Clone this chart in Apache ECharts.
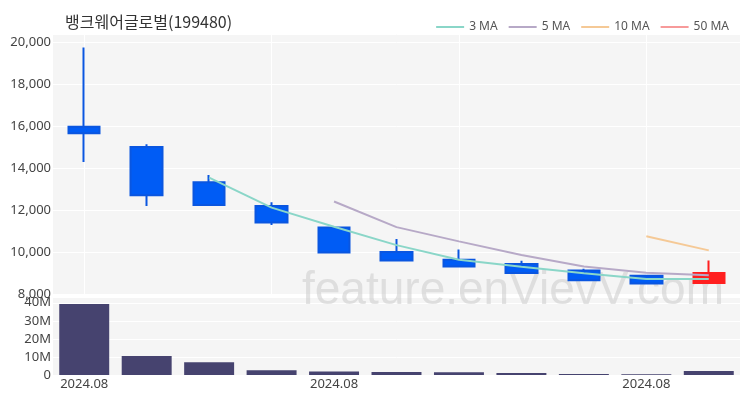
<!DOCTYPE html>
<html>
<head>
<meta charset="utf-8">
<script src="https://cdn.jsdelivr.net/npm/echarts@6/dist/echarts.min.js"></script>
<style>html,body{margin:0;padding:0;background:#fff}#c{width:750px;height:400px}</style>
</head>
<body>
<div id="c"></div>
<script>
const title = '뱅크웨어글로벌(199480)';
const dates = ['2024-08-01','2024-08-02','2024-08-05','2024-08-06','2024-08-07','2024-08-08','2024-08-09','2024-08-12','2024-08-13','2024-08-14','2024-08-16'];
const opens  = [15980, 15010, 13330, 12200, 11170, 10000, 9630, 9430, 9120, 8870, 8520];
const closes = [15670, 12710, 12250, 11410,  9980,  9600, 9310, 9000, 8650, 8505, 9000];
const lows   = [14290, 12200, 12250, 11290,  9980,  9600, 9310, 8950, 8650, 8505, 8520];
const highs  = [19760, 15140, 13680, 12380, 11170, 10620, 10120, 9590, 9200, 8870, 9600];
const volumes = [39300000, 10500000, 7000000, 2600000, 2000000, 1700000, 1500000, 1100000, 550000, 400000, 2200000];
const ma3  = [null, null, 13550, 12120, 11210, 10330, 9630, 9300, 8990, 8720, 8720];
const ma5  = [null, null, null, null, 12410, 11190, 10510, 9860, 9310, 9010, 8890];
const ma10 = [null, null, null, null, null, null, null, null, null, 10750, 10080];
const ma50 = [null, null, null, null, null, null, null, null, null, null, null];
const priceTicks = [8000, 10000, 12000, 14000, 16000, 18000, 20000];
const volumeTicks = [0, 10000000, 20000000, 30000000, 40000000];
const xLabelIdx = [0, 4, 9];

const candleData = dates.map((d, i) => [opens[i], closes[i], lows[i], highs[i]]);
const fontAxis = 'Noto Sans, Liberation Sans, sans-serif';
const chart = echarts.init(document.getElementById('c'), null, {renderer: 'canvas'});
const splitWhite = {show: true, lineStyle: {color: '#ffffff', width: 1}};

chart.setOption({
  animation: false,
  backgroundColor: '#ffffff',
  title: {
    text: title, left: 60, top: 9,
    textStyle: {fontFamily: 'Noto Sans CJK KR, sans-serif', fontSize: 16, fontWeight: 'normal', color: '#333'}
  },
  legend: {
    right: 16, top: 16, itemWidth: 28, itemHeight: 2, itemGap: 11, icon: 'rect',
    textStyle: {fontFamily: fontAxis, fontSize: 12, color: '#555'},
    data: ['3 MA', '5 MA', '10 MA', '50 MA']
  },
  graphic: [{
    type: 'text', left: 302, top: 268, z: 1, silent: true,
    style: {text: 'feature.enVievV.com', fill: 'rgba(200,200,200,0.5)', font: '46px "Liberation Sans", Arial, sans-serif'}
  }],
  grid: [
    {left: 53, right: 10, top: 34, height: 260, show: true, backgroundColor: '#f5f5f5', borderWidth: 0},
    {left: 53, right: 10, top: 297, height: 78, show: true, backgroundColor: '#f5f5f5', borderWidth: 0}
  ],
  xAxis: [
    {type: 'category', gridIndex: 0, data: dates, boundaryGap: true,
     axisLine: {show: false}, axisTick: {show: false}, axisLabel: {show: false},
     splitLine: {show: true, interval: 2, alignWithLabel: true, lineStyle: {color: '#ffffff', width: 1}}},
    {type: 'category', gridIndex: 1, data: dates, boundaryGap: true,
     axisLine: {show: false}, axisTick: {show: false},
     axisLabel: {interval: (i) => xLabelIdx.includes(i), margin: 3, fontFamily: fontAxis, fontSize: 13, color: '#444',
       formatter: (v) => v.slice(0, 4) + '.' + v.slice(5, 7)},
     splitLine: {show: false}}
  ],
  yAxis: [
    {type: 'value', gridIndex: 0, min: priceTicks[0], max: 20400, interval: 2000,
     axisLine: {show: false}, axisTick: {show: false}, splitLine: splitWhite,
     axisLabel: {showMaxLabel: false, margin: 2, fontFamily: fontAxis, fontSize: 13, color: '#444',
       formatter: (v) => priceTicks.includes(v) ? v.toLocaleString('en-US') : ''}},
    {type: 'value', gridIndex: 1, min: volumeTicks[0], max: 43200000, interval: 10000000,
     axisLine: {show: false}, axisTick: {show: false}, splitLine: splitWhite,
     axisLabel: {showMaxLabel: false, margin: 2, fontFamily: fontAxis, fontSize: 13, color: '#444',
       formatter: (v) => volumeTicks.includes(v) ? (v === 0 ? '0' : (v / 1000000) + 'M') : ''}}
  ],
  series: [
    {type: 'candlestick', name: 'price', xAxisIndex: 0, yAxisIndex: 0, data: candleData, barWidth: 32, z: 3,
     itemStyle: {color: '#ff1f1f', color0: '#005cf5', borderColor: '#ff1f1f', borderColor0: '#0a56e0', borderWidth: 2}},
    {type: 'line', name: '3 MA', data: ma3, xAxisIndex: 0, yAxisIndex: 0, showSymbol: false, symbol: 'none', z: 4,
     lineStyle: {color: '#8ad6c8', width: 2}, itemStyle: {color: '#8ad6c8'}},
    {type: 'line', name: '5 MA', data: ma5, xAxisIndex: 0, yAxisIndex: 0, showSymbol: false, symbol: 'none', z: 4,
     lineStyle: {color: '#b7a9c7', width: 2}, itemStyle: {color: '#b7a9c7'}},
    {type: 'line', name: '10 MA', data: ma10, xAxisIndex: 0, yAxisIndex: 0, showSymbol: false, symbol: 'none', z: 4,
     lineStyle: {color: '#f5c996', width: 2}, itemStyle: {color: '#f5c996'}},
    {type: 'line', name: '50 MA', data: ma50, xAxisIndex: 0, yAxisIndex: 0, showSymbol: false, symbol: 'none', z: 4,
     lineStyle: {color: '#f79a9a', width: 2}, itemStyle: {color: '#f79a9a'}},
    {type: 'bar', name: 'volume', xAxisIndex: 1, yAxisIndex: 1, data: volumes, barWidth: '80%', z: 3,
     itemStyle: {color: '#46436f'}}
  ]
});
</script>
</body>
</html>
